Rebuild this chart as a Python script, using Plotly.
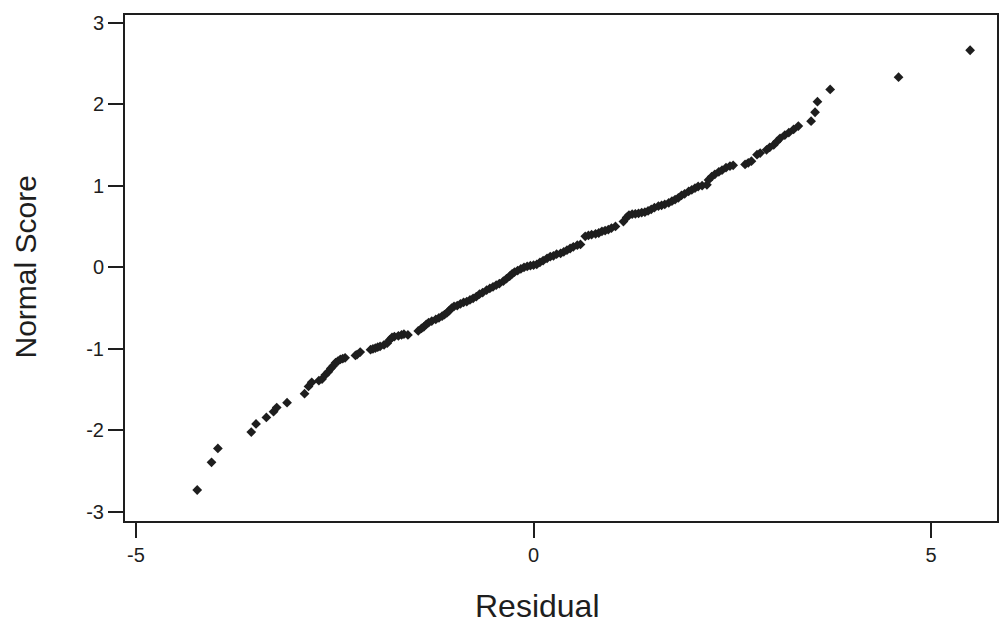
import plotly.graph_objects as go

# Residuals and their normal scores (normal probability plot)
residual = [
    -4.23, -4.05, -3.97, -3.55, -3.49, -3.36, -3.27, -3.23, -3.10, -2.88,
    -2.83, -2.79, -2.70, -2.66, -2.62, -2.58, -2.55, -2.52, -2.49, -2.46,
    -2.43, -2.40, -2.37, -2.24, -2.22, -2.18, -2.05, -2.02, -1.99, -1.96,
    -1.93, -1.88, -1.84, -1.81, -1.78, -1.75, -1.70, -1.66, -1.63, -1.58,
    -1.45, -1.41, -1.38, -1.35, -1.32, -1.28, -1.23, -1.19, -1.15, -1.12,
    -1.09, -1.06, -1.03, -1.00, -0.96, -0.92, -0.88, -0.84, -0.80, -0.76,
    -0.72, -0.68, -0.64, -0.59, -0.55, -0.51, -0.47, -0.43, -0.38, -0.34,
    -0.30, -0.27, -0.24, -0.20, -0.16, -0.12, -0.08, -0.04, 0.00, 0.04,
    0.08, 0.12, 0.17, 0.21, 0.25, 0.29, 0.34, 0.38, 0.42, 0.46,
    0.50, 0.55, 0.59, 0.65, 0.69, 0.73, 0.78, 0.82, 0.86, 0.90,
    0.94, 0.98, 1.03, 1.13, 1.17, 1.20, 1.24, 1.28, 1.32, 1.36,
    1.40, 1.44, 1.48, 1.52, 1.57, 1.61, 1.65, 1.70, 1.74, 1.78,
    1.82, 1.86, 1.90, 1.95, 1.99, 2.03, 2.07, 2.12, 2.18, 2.20,
    2.24, 2.28, 2.33, 2.37, 2.42, 2.47, 2.51, 2.66, 2.70, 2.74,
    2.81, 2.85, 2.93, 2.97, 3.02, 3.06, 3.10, 3.16, 3.21, 3.27,
    3.33, 3.49, 3.54, 3.57, 3.73, 4.59, 5.49,
]
normal_score = [
    -2.73, -2.39, -2.22, -2.02, -1.92, -1.84, -1.77, -1.72, -1.66, -1.55,
    -1.46, -1.41, -1.39, -1.37, -1.32, -1.28, -1.24, -1.21, -1.17, -1.15,
    -1.13, -1.12, -1.11, -1.08, -1.07, -1.04, -1.01, -1.00, -0.99, -0.98,
    -0.97, -0.95, -0.93, -0.89, -0.86, -0.85, -0.84, -0.83, -0.82, -0.83,
    -0.78, -0.75, -0.73, -0.70, -0.68, -0.66, -0.64, -0.62, -0.60, -0.58,
    -0.56, -0.53, -0.50, -0.48, -0.47, -0.45, -0.43, -0.42, -0.40, -0.38,
    -0.36, -0.33, -0.31, -0.28, -0.26, -0.24, -0.22, -0.20, -0.17, -0.14,
    -0.11, -0.08, -0.06, -0.04, -0.02, 0.00, 0.01, 0.02, 0.025, 0.035,
    0.06, 0.08, 0.11, 0.13, 0.14, 0.16, 0.17, 0.19, 0.21, 0.23,
    0.25, 0.27, 0.28, 0.38, 0.39, 0.40, 0.41, 0.42, 0.44, 0.45,
    0.46, 0.48, 0.50, 0.56, 0.61, 0.64, 0.65, 0.655, 0.66, 0.67,
    0.675, 0.69, 0.71, 0.73, 0.75, 0.76, 0.77, 0.79, 0.81, 0.83,
    0.85, 0.88, 0.90, 0.93, 0.95, 0.97, 0.99, 1.00, 1.01, 1.07,
    1.11, 1.14, 1.17, 1.19, 1.22, 1.24, 1.25, 1.26, 1.28, 1.30,
    1.38, 1.40, 1.44, 1.47, 1.50, 1.54, 1.58, 1.62, 1.65, 1.69,
    1.73, 1.79, 1.90, 2.03, 2.18, 2.33, 2.66,
]

x_ticks = [-5, 0, 5]
y_ticks = [-3, -2, -1, 0, 1, 2, 3]

FONT = "Arial, Liberation Sans, sans-serif"
INK = "#1e1e1e"

fig = go.Figure(
    go.Scatter(
        x=residual,
        y=normal_score,
        mode="markers",
        marker=dict(symbol="diamond", size=7.5, color=INK, line=dict(width=0)),
        showlegend=False,
        hoverinfo="x+y",
    )
)

axis_common = dict(
    showgrid=False,
    zeroline=False,
    showline=True,
    linecolor=INK,
    linewidth=2,
    mirror=True,
    ticks="outside",
    ticklen=15,
    tickwidth=2,
    tickcolor=INK,
    tickfont=dict(family=FONT, size=20, color=INK),
)

fig.update_xaxes(
    range=[-5.138, 5.828],
    tickmode="array",
    tickvals=x_ticks,
    ticktext=[str(v) for v in x_ticks],
    **axis_common,
)
fig.update_yaxes(
    range=[-3.110, 3.092],
    tickmode="array",
    tickvals=y_ticks,
    ticktext=[str(v) for v in y_ticks],
    **axis_common,
)

# Axis titles placed as annotations
fig.add_annotation(
    text="Residual",
    xref="x", yref="paper",
    x=0.05, y=-0.168,
    showarrow=False,
    xanchor="center", yanchor="middle",
    font=dict(family=FONT, size=32, color=INK),
)
fig.add_annotation(
    text="Normal Score",
    xref="paper", yref="y",
    x=-0.1144, y=0,
    textangle=-90,
    showarrow=False,
    xanchor="center", yanchor="middle",
    font=dict(family=FONT, size=30, color=INK),
)

fig.update_layout(
    width=1004,
    height=628,
    margin=dict(l=125, r=5, t=15, b=107),
    paper_bgcolor="white",
    plot_bgcolor="white",
    font=dict(family=FONT, color=INK),
)

fig.write_html("out.html")
